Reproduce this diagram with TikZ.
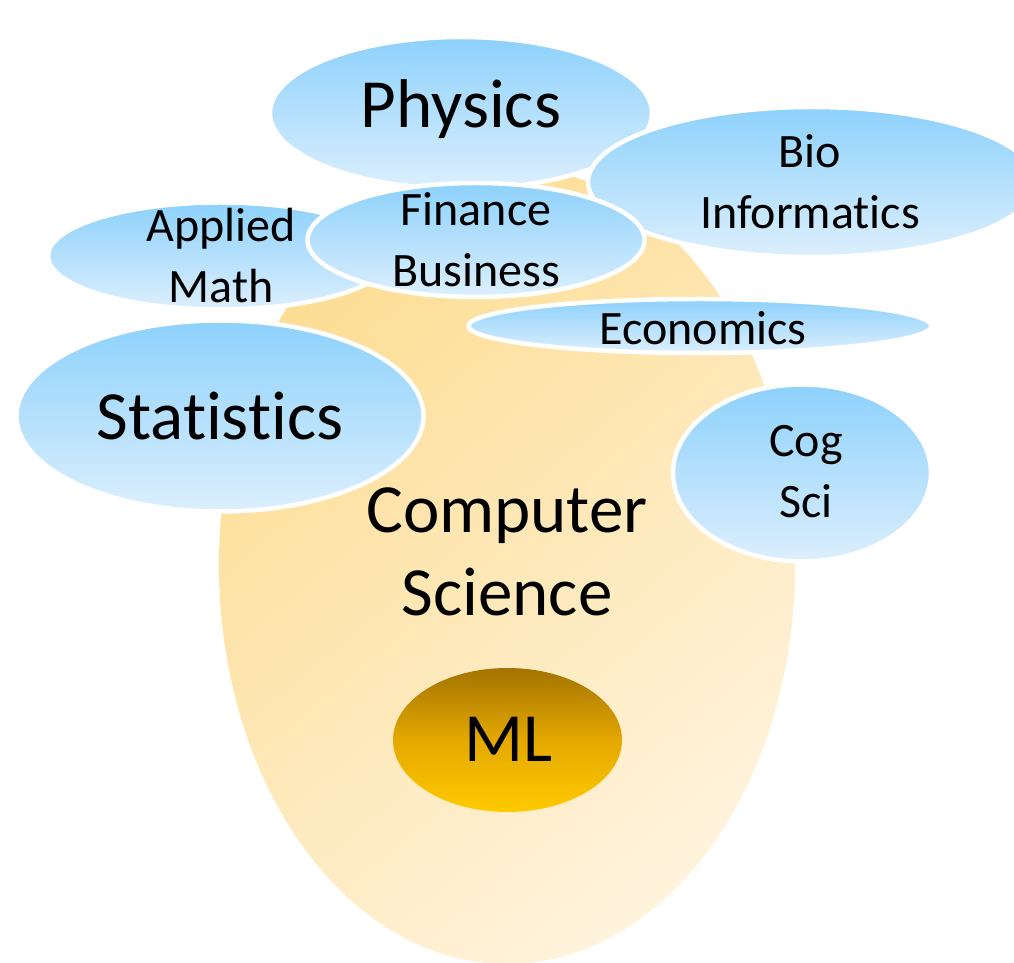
\documentclass[tikz,border=0pt]{standalone}
\usepackage{fontspec}
\setmainfont{Carlito}[Ligatures={NoCommon}]
\usetikzlibrary{shapes.geometric}
\definecolor{bluetop}{HTML}{8DD1FC}
\definecolor{bluebot}{HTML}{DCEFFD}
\definecolor{eggA}{HTML}{FDDD93}
\definecolor{eggB}{HTML}{FFF3DC}
\definecolor{mltop}{HTML}{A37400}
\definecolor{mlmid}{HTML}{E4A800}
\definecolor{mlbot}{HTML}{FFCA00}
\tikzset{
  blob/.style={ellipse, inner sep=0pt, outer sep=0pt, draw=white, line width=4.5pt,
    top color=bluetop, bottom color=bluebot},
  big/.style={anchor=base, inner sep=0pt, font=\fontsize{69}{83}\selectfont},
  med/.style={anchor=base, inner sep=0pt, font=\fontsize{48}{61}\selectfont},
}
\begin{document}
\begin{tikzpicture}[x=1pt,y=1pt]
\useasboundingbox (0,0) rectangle (1014,962);
% Computer Science egg
\node[ellipse, inner sep=0pt, minimum width=576, minimum height=798,
  shading=axis, top color=eggA, bottom color=eggB, shading angle=40] (cs) at (507,397) {};
% ML
\node[ellipse, inner sep=0pt, minimum width=229, minimum height=144,
  top color=mltop, bottom color=mlbot, middle color=mlmid] (ml) at (507.5,222) {};
% fields
\node[blob, minimum width=382, minimum height=152] (phys) at (461,849) {};
\node[blob, minimum width=448, minimum height=150] (bio) at (812,780) {};
\node[blob, minimum width=344, minimum height=107] (am) at (220,706) {};
\node[blob, minimum width=337, minimum height=114] (fin) at (476,722) {};
\node[blob, minimum width=463, minimum height=54] (eco) at (700,636) {};
\node[blob, minimum width=407, minimum height=191] (stat) at (220,546) {};
\node[blob, minimum width=258, minimum height=177] (cog) at (802,489) {};
% labels
\node[big] (physT) at (461,834) {Physics};
\node[med] (bioT1) at (810,794) {Bio};
\node[med] (bioT2) at (810,733) {Informatics};
\node[med] (amT1) at (221,720) {Applied};
\node[med] (amT2) at (221,659) {Math};
\node[med] (finT1) at (476,736) {Finance};
\node[med] (finT2) at (476,675) {Business};
\node[med] (ecoT) at (703,617) {Economics};
\node[big] (statT) at (220,522) {Statistics};
\node[med] (cogT1) at (806,505) {Cog};
\node[med] (cogT2) at (806,444) {Sci};
\node[big] (csT1) at (507,429) {Computer};
\node[big] (csT2) at (507,347) {Science};
\node[big] (mlT) at (508,201) {ML};
\end{tikzpicture}
\end{document}
